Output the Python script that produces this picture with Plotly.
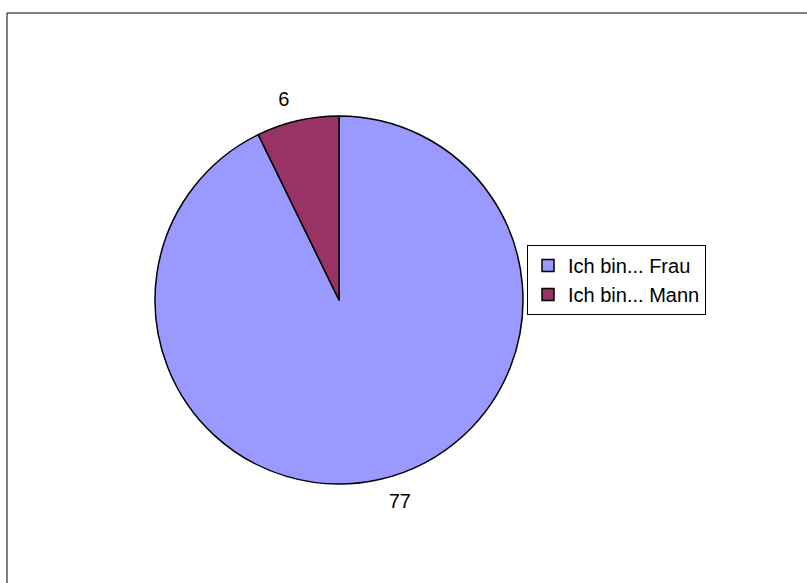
import plotly.graph_objects as go

labels = ["Ich bin... Frau", "Ich bin... Mann"]
values = [77, 6]
colors = ["#9999FF", "#993366"]

W, H = 807, 583
cx, cy, r = 339, 300, 184
gap = 12  # label offset ring

FONT = "Liberation Sans, Arial, sans-serif"

def dom(rad):
    return dict(x=[(cx - rad) / W, (cx + rad) / W],
                y=[1 - (cy + rad) / H, 1 - (cy - rad) / H])

fig = go.Figure()
# main pie
fig.add_trace(go.Pie(
    labels=labels,
    values=values,
    sort=False,
    direction="clockwise",
    rotation=0,
    marker=dict(colors=colors, line=dict(color="black", width=1.5)),
    textinfo="none",
    domain=dom(r),
    showlegend=True,
    hoverinfo="label+value",
))
# transparent ring just for the value labels, placed slightly further out
fig.add_trace(go.Pie(
    labels=labels,
    values=values,
    sort=False,
    direction="clockwise",
    rotation=0,
    marker=dict(colors=["rgba(0,0,0,0)"] * len(values), line=dict(width=0)),
    textinfo="value",
    textposition="outside",
    textfont=dict(family=FONT, size=20, color="black"),
    domain=dom(r + gap),
    showlegend=False,
    hoverinfo="skip",
))

fig.update_layout(
    width=W, height=H,
    margin=dict(l=0, r=0, t=0, b=0),
    paper_bgcolor="white",
    plot_bgcolor="white",
    font=dict(family=FONT, size=20, color="black"),
    legend=dict(
        x=527 / W, y=1 - 245 / H, xanchor="left", yanchor="top",
        bordercolor="black", borderwidth=1, bgcolor="white",
        font=dict(size=20), itemclick=False, itemwidth=30,
    ),
    shapes=[dict(type="rect", xref="paper", yref="paper",
                 x0=7 / W, y0=-0.02, x1=1.02, y1=1 - 13 / H,
                 line=dict(color="black", width=1))],
)

fig.write_html("out.html", config={"displayModeBar": False},
               post_script="document.body.style.margin='0';")
